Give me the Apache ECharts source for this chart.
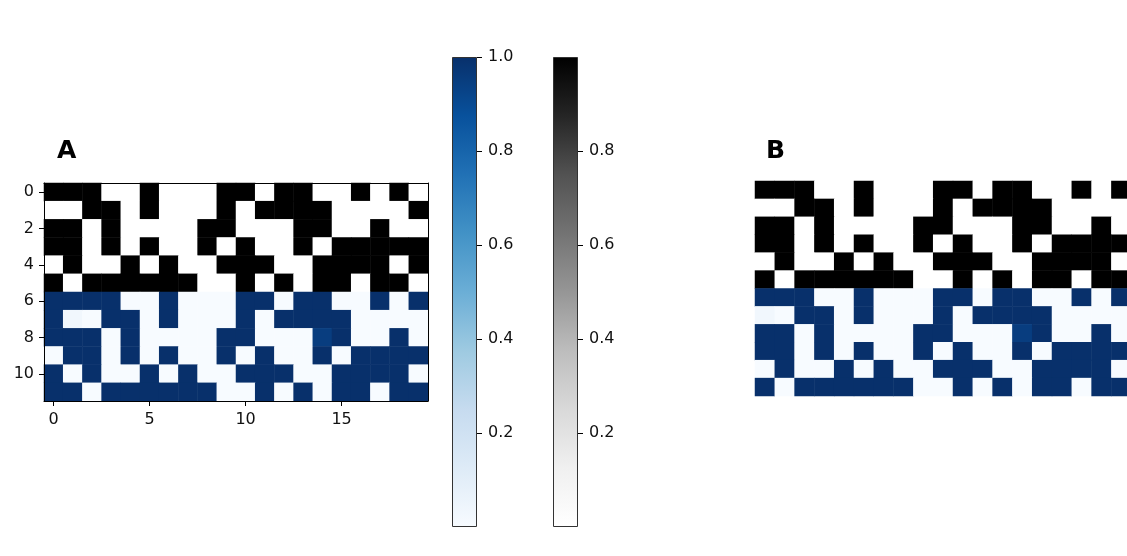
<!DOCTYPE html>
<html>
<head>
<meta charset="utf-8">
<script src="https://cdn.jsdelivr.net/npm/echarts@6/dist/echarts.min.js"></script>
<style>
html,body{margin:0;padding:0;background:#fff;}
#chart{width:1127px;height:556px;}
</style>
</head>
<body>
<div id="chart"></div>
<script>
// ---- data ----
const colLabels = ['0','1','2','3','4','5','6','7','8','9','10','11','12','13','14','15','16','17','18','19'];
const rowLabels = ['0','1','2','3','4','5','6','7','8','9','10','11'];
// grey (top) rows 0-5, shared by panels A and B
const greyRows = [
  [1,1,1,0,0,1,0,0,0,1,1,0,1,1,0,0,1,0,1,0],
  [0,0,1,1,0,1,0,0,0,1,0,1,1,1,1,0,0,0,0,1],
  [1,1,0,1,0,0,0,0,1,1,0,0,0,1,1,0,0,1,0,0],
  [1,1,0,1,0,1,0,0,1,0,1,0,0,1,0,1,1,1,1,1],
  [0,1,0,0,1,0,1,0,0,1,1,1,0,0,1,1,1,1,0,1],
  [1,0,1,1,1,1,1,1,0,0,1,0,1,0,1,1,0,1,1,0]
];
// blue rows 6-11, panel A
const blueRowsA = [
  [1,1,1,1,0,0,1,0,0,0,1,1,0,1,1,0,0,1,0,1],
  [1,0.03,0,1,1,0,1,0,0,0,1,0,1,1,1,1,0,0,0,0],
  [1,1,1,0,1,0,0,0,0,1,1,0,0,0,0.95,1,0,0,1,0],
  [0,1,1,0,1,0,1,0,0,1,0,1,0,0,1,0,1,1,1,1],
  [1,0,1,0,0,1,0,1,0,0,1,1,1,0,0,1,1,1,1,0],
  [1,1,0,1,1,1,1,1,1,0,0,1,0,1,0,1,1,0,1,1]
];
// blue rows 6-11, panel B
const blueRowsB = [
  [1,1,1,0,0,1,0,0,0,1,1,0,1,1,0,0,1,0,1,0],
  [0.03,0,1,1,0,1,0,0,0,1,0,1,1,1,1,0,0,0,0,1],
  [1,1,0,1,0,0,0,0,1,1,0,0,0,0.95,1,0,0,1,0,0],
  [1,1,0,1,0,1,0,0,1,0,1,0,0,1,0,1,1,1,1,1],
  [0,1,0,0,1,0,1,0,0,1,1,1,0,0,1,1,1,1,0,1],
  [1,0,1,1,1,1,1,1,0,0,1,0,1,0,1,1,0,1,1,0]
];
const blueTicks = [0.2,0.4,0.6,0.8,1.0];
const greyTicks = [0.2,0.4,0.6,0.8];
const colorbarRange = [1];

// ---- styles ----
const BLUES = ['#f7fbff','#deebf7','#c6dbef','#9ecae1','#6baed6','#4292c6','#2171b5','#08519c','#08306b'];
const GREYS = ['#ffffff','#f0f0f0','#d9d9d9','#bdbdbd','#969696','#737373','#525252','#252525','#000000'];
const FONT = 'DejaVu Sans';
const TXT = '#111';

function toCells(rows, rowOffset){
  const out = [];
  rows.forEach((r, i) => r.forEach((v, j) => out.push([j, i + rowOffset, v])));
  return out;
}
function gradient(stops){
  const n = stops.length;
  return new echarts.graphic.LinearGradient(0, 1, 0, 0,
    stops.map((c, i) => ({offset: i / (n - 1), color: c})));
}

const chart = echarts.init(document.getElementById('chart'), null, {renderer: 'canvas'});

const hm = (xi, yi, data) => ({
  type: 'heatmap', xAxisIndex: xi, yAxisIndex: yi, data: data,
  emphasis: {disabled: true}, progressive: 0, itemStyle: {borderWidth: 0}
});

const option = {
  animation: false,
  backgroundColor: '#fff',
  textStyle: {fontFamily: FONT},
  title: [
    {text: 'A', left: 52, top: 134, textStyle: {fontFamily: FONT, fontWeight: 'bold', fontSize: 25, color: '#000'}},
    {text: 'B', left: 761, top: 134, textStyle: {fontFamily: FONT, fontWeight: 'bold', fontSize: 25, color: '#000'}}
  ],
  grid: [
    {left: 44, top: 183, width: 384, height: 218, outerBoundsMode: 'none'},
    {left: 755, top: 181, width: 396, height: 215, outerBoundsMode: 'none'},
    {left: 452, top: 57, width: 25, height: 470, outerBoundsMode: 'none'},
    {left: 553, top: 57, width: 25, height: 470, outerBoundsMode: 'none'}
  ],
  visualMap: [
    {type: 'continuous', show: false, min: 0, max: 1, seriesIndex: [0, 2], inRange: {color: GREYS}},
    {type: 'continuous', show: false, min: 0, max: 1, seriesIndex: [1, 3], inRange: {color: BLUES}}
  ],
  xAxis: [
    {gridIndex: 0, type: 'category', data: colLabels, position: 'bottom', z: 5,
     axisLine: {show: true, lineStyle: {color: '#000', width: 1}},
     axisTick: {show: true, interval: 4, alignWithLabel: true, length: 5, lineStyle: {color: '#000'}},
     axisLabel: {interval: 4, margin: 11, fontSize: 16, color: TXT, fontFamily: FONT},
     splitLine: {show: false}},
    {gridIndex: 0, type: 'category', data: colLabels, position: 'top', z: 5,
     axisLine: {show: true, lineStyle: {color: '#000', width: 1}},
     axisTick: {show: false}, axisLabel: {show: false}, splitLine: {show: false}},
    {gridIndex: 1, type: 'category', data: colLabels, show: false},
    {gridIndex: 2, type: 'category', data: ['cb'], show: false},
    {gridIndex: 3, type: 'category', data: ['cb'], show: false}
  ],
  yAxis: [
    {gridIndex: 0, type: 'category', data: rowLabels, inverse: true, position: 'left', z: 5,
     axisLine: {show: true, lineStyle: {color: '#000', width: 1}},
     axisTick: {show: true, interval: 1, alignWithLabel: true, length: 5, lineStyle: {color: '#000'}},
     axisLabel: {interval: 1, margin: 10, fontSize: 16, color: TXT, fontFamily: FONT},
     splitLine: {show: false}},
    {gridIndex: 0, type: 'category', data: rowLabels, inverse: true, position: 'right', z: 5,
     axisLine: {show: true, lineStyle: {color: '#000', width: 1}},
     axisTick: {show: false}, axisLabel: {show: false}, splitLine: {show: false}},
    {gridIndex: 1, type: 'category', data: rowLabels, inverse: true, show: false},
    {gridIndex: 2, type: 'value', min: 0, max: 1, position: 'right', z: 5,
     axisLine: {show: false},
     axisTick: {show: true, length: 5, customValues: blueTicks, lineStyle: {color: '#000'}},
     axisLabel: {customValues: blueTicks, margin: 11, fontSize: 16, color: TXT, fontFamily: FONT,
       formatter: v => v.toFixed(1)},
     splitLine: {show: false}},
    {gridIndex: 3, type: 'value', min: 0, max: 1, position: 'right', z: 5,
     axisLine: {show: false},
     axisTick: {show: true, length: 5, customValues: greyTicks, lineStyle: {color: '#000'}},
     axisLabel: {customValues: greyTicks, margin: 11, fontSize: 16, color: TXT, fontFamily: FONT,
       formatter: v => v.toFixed(1)},
     splitLine: {show: false}}
  ],
  series: [
    hm(0, 0, toCells(greyRows, 0)),
    hm(0, 0, toCells(blueRowsA, 6)),
    hm(2, 2, toCells(greyRows, 0)),
    hm(2, 2, toCells(blueRowsB, 6)),
    {type: 'bar', xAxisIndex: 3, yAxisIndex: 3, data: colorbarRange, barWidth: '100%', silent: true,
     itemStyle: {color: gradient(BLUES), borderColor: '#333', borderWidth: 1}},
    {type: 'bar', xAxisIndex: 4, yAxisIndex: 4, data: colorbarRange, barWidth: '100%', silent: true,
     itemStyle: {color: gradient(GREYS), borderColor: '#333', borderWidth: 1}}
  ]
};
chart.setOption(option);
</script>
</body>
</html>
